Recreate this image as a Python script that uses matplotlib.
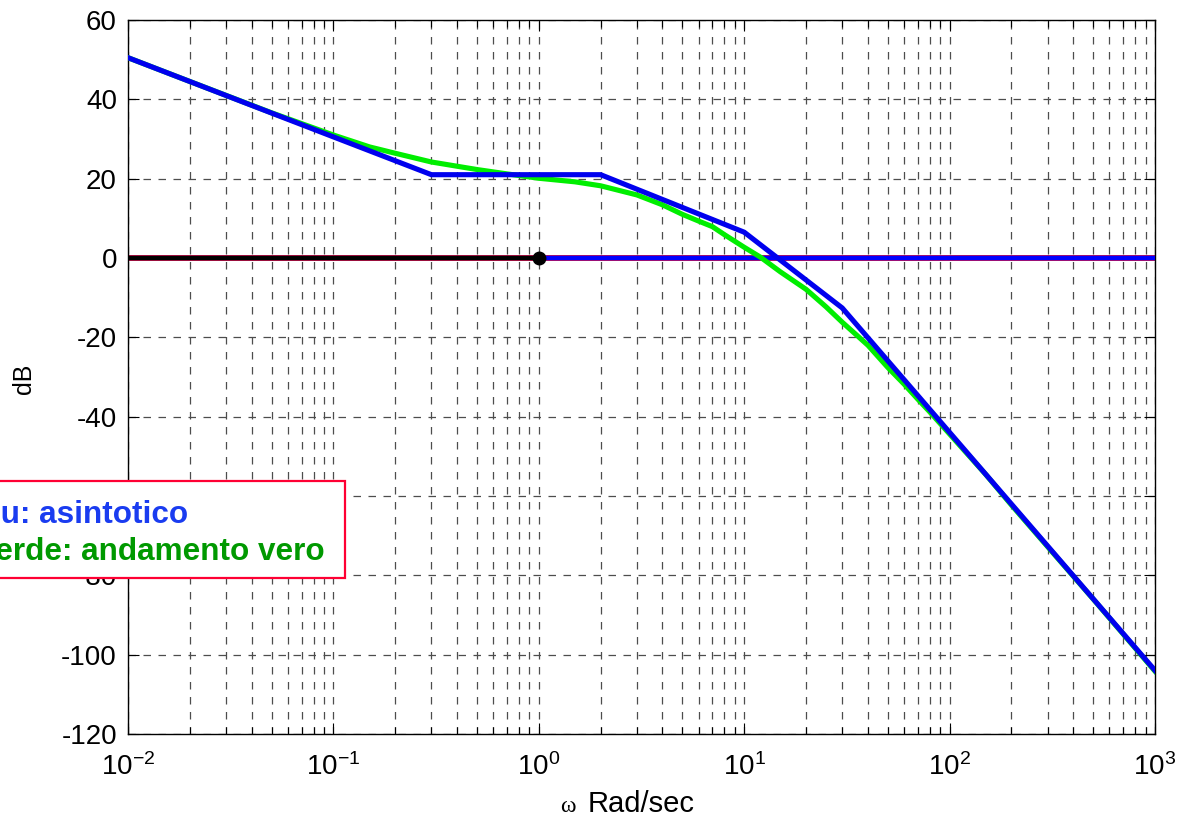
import numpy as np
import matplotlib
matplotlib.use("Agg")
import matplotlib.pyplot as plt
from matplotlib.patches import Rectangle

plt.rcParams['font.family'] = ['Liberation Sans', 'DejaVu Sans']
plt.rcParams['mathtext.fontset'] = 'custom'
plt.rcParams['mathtext.rm'] = 'Liberation Sans'
plt.rcParams['mathtext.it'] = 'Liberation Sans'
plt.rcParams['mathtext.default'] = 'regular'
plt.rcParams['axes.unicode_minus'] = False

# asymptotic (blue) breakpoints
w_asint = [0.01, 0.3, 2, 10, 30, 1000]
db_asint = [50.5, 21.0, 21.0, 6.5, -12.6, -104.0]

# true magnitude (green)
w_vero = [0.01, 0.02, 0.05, 0.1, 0.15, 0.2, 0.3, 0.5, 0.7, 1, 1.5, 2, 3, 4, 5, 6, 7, 8,
          10, 12, 15, 20, 25, 30, 35, 40, 50, 60, 70, 80, 100, 150, 200, 300, 500, 1000]
db_vero = [50.5, 44.5, 36.6, 31.0, 28.0, 26.4, 24.2, 22.3, 21.2, 20.1, 19.2, 18.2,
           15.9, 13.4, 11.0, 9.3, 7.9, 5.9, 2.7, 0.2, -3.5, -7.9, -12.3, -16.2, -19.3,
           -22.0, -27.6, -31.8, -35.6, -38.8, -44.4, -54.6, -62.3, -72.8, -86.0, -104.2]

# 0 dB reference
w_zero = [0.01, 1000]
w_left = [0.01, 1]
w_right = [1, 1000]
y_ticks = [-120, -100, -80, -60, -40, -20, 0, 20, 40, 60]

fig = plt.figure(figsize=(11.82, 8.23), dpi=100)
ax = fig.add_axes([0.1083, 0.1082, 0.8689, 0.8675])

ax.plot(w_zero, [0, 0], color='#c00040', lw=4.2, zorder=2)
ax.plot(w_left, [0, 0], color='black', lw=3.2, zorder=3, solid_capstyle='butt')
ax.plot(w_right, [0, 0], color='#0000ff', lw=3.2, zorder=3, solid_capstyle='butt')
ax.plot([1], [0], 'o', color='black', ms=9, zorder=4)

ax.plot(w_vero, db_vero, color='#00ee00', lw=3.7, zorder=5)
ax.plot(w_asint, db_asint, color='#0000ee', lw=3.7, zorder=6)

ax.set_xscale('log')
ax.set_xlim(1e-2, 1e3)
ax.set_ylim(-120, 60)
ax.set_yticks(y_ticks)

ax.grid(True, which='major', axis='both', color='0.3', linestyle=(0, (6, 6)), lw=0.9)
ax.grid(True, which='minor', axis='x', color='0.3', linestyle=(0, (6, 6)), lw=0.9)

ax.tick_params(which='both', direction='in', top=True, right=True, labelsize=20)
ax.tick_params(axis='y', pad=8)
ax.tick_params(axis='x', pad=14)
ax.tick_params(which='major', length=8, width=0.8)
ax.tick_params(which='minor', length=5, width=0.8)
for s in ax.spines.values():
    s.set_linewidth(1.0)

# axis labels
fig.text(0.4805, 0.013, 'ω', fontsize=17, family=['Liberation Serif', 'DejaVu Serif'],
         ha='center', va='baseline')
fig.text(0.497, 0.013, 'Rad/sec', fontsize=21, ha='left', va='baseline')
fig.text(0.02, 0.54, 'dB', fontsize=18, rotation=90, ha='center', va='center')

# legend box, partly out of the figure on the left
box = Rectangle((-40 / 1182, 1 - 578 / 823), 385 / 1182, 97 / 823,
                transform=fig.transFigure, facecolor='white', edgecolor='#ff0033',
                lw=1.6, zorder=10)
fig.add_artist(box)
fig.text(-31 / 1182, 1 - 523 / 823, 'Blu: asintotico', color='#1a3cf0',
         fontsize=22.7, fontweight='bold', va='baseline', zorder=11)
fig.text(-24 / 1182, 1 - 560 / 823, 'Verde: andamento vero', color='#009900',
         fontsize=22.7, fontweight='bold', va='baseline', zorder=11)

fig.savefig('out.png', dpi=100)
